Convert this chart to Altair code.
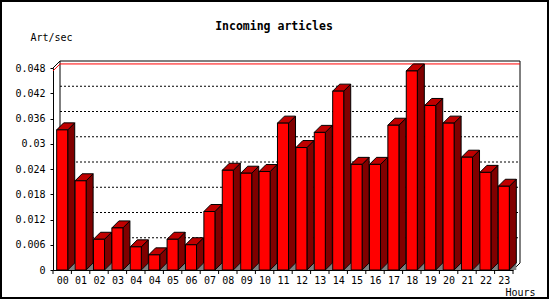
import json
import altair as alt
import pandas as pd

# ---- data ----
hours = ["00", "01", "02", "03", "04", "04", "05", "06", "07", "08", "09", "10",
         "11", "12", "13", "14", "15", "16", "17", "18", "19", "20", "21", "22", "23"]
rates = [0.0333, 0.0212, 0.0073, 0.0100, 0.0055, 0.0036, 0.0073, 0.0060, 0.0139,
         0.0237, 0.0230, 0.0234, 0.0349, 0.0291, 0.0327, 0.0425, 0.0251, 0.0251,
         0.0344, 0.0473, 0.0391, 0.0349, 0.0268, 0.0232, 0.0199]
y_ticks = [0, 0.006, 0.012, 0.018, 0.024, 0.03, 0.036, 0.042, 0.048]
title_text = "Incoming articles"
y_title = "Art/sec"
x_title = "Hours"

# ---- geometry / style ----
N = len(hours)
YMAX = y_ticks[-1]
W, H = 460, 202
DEPTH = 7
DX = DEPTH * N / W
DY = DEPTH * YMAX / H
HALF = 0.3
FONT = "DejaVu Sans Mono"

df = pd.DataFrame({"idx": list(range(N)), "hour": hours, "rate": rates})

xs = alt.Scale(domain=[0, N], nice=False, zero=False)
ys = alt.Scale(domain=[0, YMAX], nice=False, zero=False)

label_expr = json.dumps(hours) + "[floor(datum.value)]"
xaxis = alt.Axis(values=[i + 0.5 for i in range(N)], labelExpr=label_expr,
                 tickSize=0, labelPadding=5, grid=False, domainColor="black",
                 labelFont=FONT, labelFontSize=10, labelColor="black", labelAngle=0,
                 labelFlush=False, labelOverlap=False,
                 title=x_title, titleX=452, titleY=22, titleAlign="left",
                 titleBaseline="middle", titleFont=FONT, titleFontSize=10,
                 titleFontWeight="normal", titleColor="black")
yaxis = alt.Axis(values=y_ticks, labelExpr="'' + datum.value", tickSize=3,
                 tickColor="black", labelPadding=5, grid=False, domainColor="black",
                 labelFont=FONT, labelFontSize=10, labelColor="black",
                 labelFlush=False, labelOverlap=False,
                 title=y_title, titleAngle=0, titleX=-23, titleY=-31,
                 titleAlign="left", titleBaseline="middle", titleFont=FONT,
                 titleFontSize=10, titleFontWeight="normal", titleColor="black")

X = alt.X("x:Q", scale=xs, axis=xaxis)
Y = alt.Y("y:Q", scale=ys, axis=yaxis, stack=None)
Xh = alt.X("x:Q", scale=xs, axis=xaxis, stack=None)

base = alt.Chart(df)

# dotted grid on back plane
grid_df = pd.DataFrame({"t": y_ticks[1:-1]})
grid = alt.Chart(grid_df).transform_calculate(
    y=f"datum.t + {DY}", x=f"{DX}", x2=f"{N + DX}"
).mark_rule(color="black", strokeDash=[2, 2], strokeWidth=1, clip=False).encode(
    x=X, x2="x2:Q", y=Y)

# back frame
frame_df = pd.DataFrame([
    {"x": DX, "x2": N + DX, "y": YMAX + DY, "y2": YMAX + DY},
    {"x": DX, "x2": DX, "y": DY, "y2": YMAX + DY},
    {"x": N + DX, "x2": N + DX, "y": DY, "y2": YMAX + DY},
    {"x": N, "x2": N + DX, "y": 0, "y2": DY},
    {"x": 0, "x2": DX, "y": YMAX, "y2": YMAX + DY},
])
frame = alt.Chart(frame_df).mark_rule(color="black", strokeWidth=1, clip=False).encode(
    x=X, x2="x2:Q", y=Y, y2="y2:Q")

# max line (red)
red_h = base.transform_aggregate(m="max(rate)").transform_calculate(
    x=f"{DX}", x2=f"{N + DX}", y=f"datum.m + {DY}"
).mark_rule(color="red", strokeWidth=1, clip=False).encode(x=X, x2="x2:Q", y=Y)
red_d = base.transform_aggregate(m="max(rate)").transform_calculate(
    x="0", x2=f"{DX}", y="datum.m", y2=f"datum.m + {DY}"
).mark_rule(color="red", strokeWidth=1, clip=False).encode(x=X, x2="x2:Q", y=Y, y2="y2:Q")

flat = base.transform_calculate(k="[0, 1]").transform_flatten(["k"])

shadow = flat.transform_calculate(
    x=f"datum.idx + 0.5 + {HALF} + datum.k * {DX}", y="0", y2=f"datum.k * {DY}"
).mark_area(color="#808080", clip=False).encode(
    x=X, y=Y, y2="y2:Q", detail="idx:N")

side = flat.transform_calculate(
    x=f"datum.idx + 0.5 + {HALF} + datum.k * {DX}",
    y=f"datum.k * {DY}", y2=f"datum.rate + datum.k * {DY}"
).mark_area(color="#800000", stroke="black", strokeWidth=1, clip=False).encode(
    x=X, y=Y, y2="y2:Q", detail="idx:N")

top = flat.transform_calculate(
    x=f"datum.idx + 0.5 - {HALF} + datum.k * {DX}",
    x2=f"datum.idx + 0.5 + {HALF} + datum.k * {DX}",
    y=f"datum.rate + datum.k * {DY}"
).mark_area(orient="horizontal", color="#c00000", stroke="black", strokeWidth=1,
            clip=False).encode(
    y=Y, x=Xh, x2="x2:Q", detail="idx:N")

front = base.transform_calculate(
    x=f"datum.idx + 0.5 - {HALF}", x2=f"datum.idx + 0.5 + {HALF}",
    y="datum.rate", y2="0"
).mark_rect(color="#ff0000", stroke="black", strokeWidth=1, clip=False).encode(
    x=X, x2="x2:Q", y=Y, y2="y2:Q")

ticks_df = pd.DataFrame({"x": list(range(N + 1))})
xticks = alt.Chart(ticks_df).mark_rule(color="black", clip=False).encode(
    x=X, y=alt.value(H), y2=alt.value(H + 4))

title = alt.Chart(pd.DataFrame({"t": [title_text]})).mark_text(
    font=FONT, fontSize=11.5, fontWeight="bold", color="black",
    align="center", baseline="middle", clip=False
).encode(text="t:N", x=alt.value(221), y=alt.value(-41))

border = alt.Chart(pd.DataFrame({"a": [0]})).mark_rect(
    fill=None, stroke="black", strokeWidth=2, clip=False
).encode(x=alt.value(-52), x2=alt.value(495), y=alt.value(-67), y2=alt.value(230))

chart = alt.layer(grid, frame, red_h, red_d, shadow, side, top, front, xticks,
                  title, border).properties(
    width=W, height=H,
    autosize=alt.AutoSizeParams(type="none"),
    padding={"left": 53, "top": 68, "right": 37, "bottom": 30},
    background="white",
).configure_view(stroke=None)

chart.save("out.html", embed_options={"renderer": "svg", "actions": False})
